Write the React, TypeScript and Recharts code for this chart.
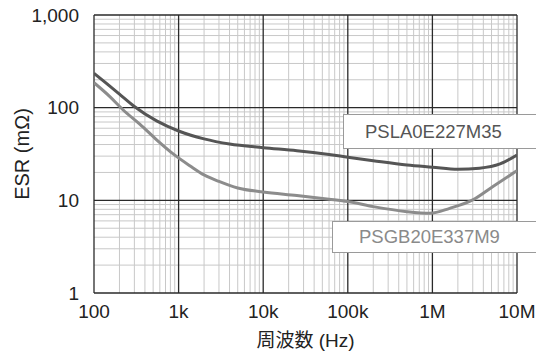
import React from 'react';
import { LineChart, Line, XAxis, YAxis, ReferenceLine } from 'recharts';

const freqDark = [100, 155, 200, 300, 550, 1e3, 2e3, 4e3, 1e4, 2.5e4, 6e4, 1e5, 2e5, 5e5, 1e6, 2e6, 3.6e6, 6.3e6, 1e7];
const esrDark = [235, 170, 140, 103, 72, 56, 46, 40.5, 37, 34.3, 31.2, 29.2, 26.8, 24.1, 22.8, 21.6, 22.2, 24.7, 30.9];

const freqLight = [100, 155, 220, 350, 550, 870, 1.37e3, 2e3, 3e3, 5e3, 1e4, 2.5e4, 6e4, 1e5, 2e5, 5e5, 9.4e5, 1.6e6, 3e6, 5.2e6, 1e7];
const esrLight = [186, 131, 95, 66, 45, 31.5, 23.5, 18.8, 16.0, 13.6, 12.3, 11.3, 10.3, 9.7, 8.55, 7.55, 7.26, 8.2, 10.1, 14.1, 20.9];

const xTicks = [100, 1e3, 1e4, 1e5, 1e6, 1e7];
const xTickLabels = ['100', '1k', '10k', '100k', '1M', '10M'];
const yTicks = [1, 10, 100, 1000];
const yTickLabels = ['1', '10', '100', '1,000'];

const seriesNames = ['PSLA0E227M35', 'PSGB20E337M9'];
const xTitle = '周波数 (Hz)';
const yTitle = 'ESR (mΩ)';

const darkData = freqDark.map((f, i) => ({ f, esr: esrDark[i] }));
const lightData = freqLight.map((f, i) => ({ f, esr: esrLight[i] }));

const minorOf = (ticks: number[]) => {
  const out: number[] = [];
  for (let i = 0; i < ticks.length - 1; i++) {
    for (let k = 2; k <= 9; k++) out.push(ticks[i] * k);
  }
  return out;
};
const xMinor = minorOf(xTicks);
const yMinor = minorOf(yTicks);

const FONT = '"Liberation Sans", Arial, "Noto Sans CJK JP", sans-serif';

export default function App() {
  return (
    <div style={{ position: 'absolute', left: 0, top: 0, width: 536, height: 354, overflow: 'hidden', background: '#fff', fontFamily: FONT }}>
      <LineChart width={536} height={354} margin={{ top: 15, right: 19, bottom: 0, left: 0 }}>
        <XAxis
          dataKey="f"
          type="number"
          scale="log"
          domain={[100, 1e7]}
          ticks={xTicks}
          allowDataOverflow
          height={61}
          tickLine={false}
          axisLine={false}
          tickSize={0}
          tickMargin={12}
          tickFormatter={(v: number) => xTickLabels[xTicks.indexOf(v)] ?? ''}
          tick={{ fill: '#222', fontSize: 19, fontFamily: FONT }}
          label={{ value: xTitle, position: 'insideBottom', offset: 7, fill: '#222', fontSize: 19, fontFamily: FONT }}
          interval={0}
        />
        <YAxis
          type="number"
          scale="log"
          domain={[1, 1000]}
          ticks={yTicks}
          allowDataOverflow
          width={94}
          tickLine={false}
          axisLine={false}
          tickSize={0}
          tickMargin={15}
          tickFormatter={(v: number) => yTickLabels[yTicks.indexOf(v)] ?? ''}
          tick={{ fill: '#222', fontSize: 19, fontFamily: FONT }}
          label={{ value: yTitle, angle: -90, position: 'insideLeft', offset: 22, fill: '#222', fontSize: 20, fontFamily: FONT, style: { textAnchor: 'middle' } }}
          interval={0}
        />
        {xMinor.map((v) => (
          <ReferenceLine key={'xm' + v} x={v} stroke="#c8c8c8" strokeWidth={1} />
        ))}
        {yMinor.map((v) => (
          <ReferenceLine key={'ym' + v} y={v} stroke="#c8c8c8" strokeWidth={1} />
        ))}
        {xTicks.map((v) => (
          <ReferenceLine key={'xM' + v} x={v} stroke="#2a2a2a" strokeWidth={1.3} />
        ))}
        {yTicks.map((v) => (
          <ReferenceLine key={'yM' + v} y={v} stroke="#2a2a2a" strokeWidth={1.3} />
        ))}
        <Line data={darkData} dataKey="esr" type="monotone" stroke="#555555" strokeWidth={3} dot={false} isAnimationActive={false} name={seriesNames[0]} />
        <Line data={lightData} dataKey="esr" type="monotone" stroke="#8c8c8c" strokeWidth={3} dot={false} isAnimationActive={false} name={seriesNames[1]} />
      </LineChart>
      <div style={{ position: 'absolute', left: 343, top: 114, width: 200, height: 35, boxSizing: 'border-box', border: '1px solid #9a9a9a', background: '#fff', color: '#555', fontSize: 18.5, lineHeight: '33px', paddingLeft: 21, whiteSpace: 'nowrap' }}>
        {seriesNames[0]}
      </div>
      <div style={{ position: 'absolute', left: 332, top: 221, width: 210, height: 32, boxSizing: 'border-box', border: '1px solid #9a9a9a', background: '#fff', color: '#8a8a8a', fontSize: 18.5, lineHeight: '30px', paddingLeft: 26, whiteSpace: 'nowrap' }}>
        {seriesNames[1]}
      </div>
    </div>
  );
}
